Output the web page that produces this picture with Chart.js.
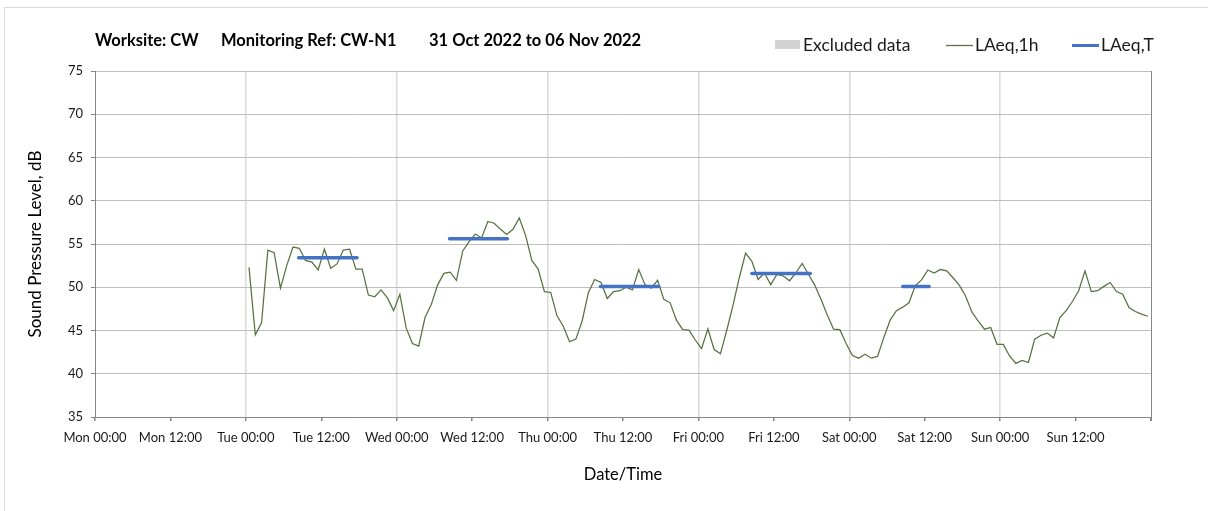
<!DOCTYPE html>
<html>
<head>
<meta charset="utf-8">
<script src="https://cdn.jsdelivr.net/npm/chart.js@4.4.0/dist/chart.umd.min.js"></script>
<style>
  html, body { margin: 0; padding: 0; background: #fff; }
</style>
</head>
<body>
<canvas id="myCanvas" width="1208" height="511"></canvas>
<script>
// horas desde lunes 00:00 del primer dato
const startHour = 24.5;

// LAeq,1h (dB), un valor por hora
const laeq1h = [
  52.3, 44.5, 45.9, 54.3, 54.0, 49.9, 52.5, 54.65, 54.5, 53.1, 52.9, 52.0, 54.4, 52.2, 52.7, 54.3, 54.4, 52.1, 52.1, 49.1, 48.9, 49.7, 48.8, 47.3,
  49.2, 45.3, 43.5, 43.2, 46.5, 48.0, 50.25, 51.6, 51.75, 50.8, 54.2, 55.25, 56.15, 55.7, 57.6, 57.4, 56.7, 56.1, 56.7, 58.0, 56.0, 53.1, 52.1, 49.5,
  49.4, 46.7, 45.5, 43.7, 44.0, 46.1, 49.4, 50.9, 50.55, 48.7, 49.5, 49.6, 50.0, 49.7, 52.05, 50.3, 49.9, 50.8, 48.6, 48.2, 46.2, 45.1, 45.05, 43.9,
  42.9, 45.2, 42.8, 42.3, 45.0, 47.9, 51.1, 53.95, 53.0, 50.9, 51.65, 50.3, 51.5, 51.3, 50.75, 51.65, 52.75, 51.5, 50.25, 48.6, 46.8, 45.15, 45.1, 43.5,
  42.1, 41.8, 42.25, 41.8, 42.0, 44.2, 46.2, 47.3, 47.7, 48.2, 50.2, 50.85, 52.0, 51.65, 52.05, 51.9, 51.1, 50.25, 49.0, 47.15, 46.1, 45.15, 45.35, 43.4,
  43.4, 42.05, 41.2, 41.55, 41.3, 44.0, 44.45, 44.7, 44.15, 46.5, 47.3, 48.35, 49.6, 51.9, 49.5, 49.6, 50.1, 50.55, 49.5, 49.2, 47.65, 47.2, 46.9, 46.65
];

// LAeq,T por periodo (inicio y fin en horas)
const ltStart = [32.4, 56.4, 80.4, 104.5, 128.5];
const ltEnd = [41.7, 65.6, 89.7, 113.8, 132.7];
const ltValue = [53.4, 55.6, 50.1, 51.6, 50.1];

// etiquetas del eje x cada 12 horas
const xTickLabels = [
  'Mon 00:00', 'Mon 12:00', 'Tue 00:00', 'Tue 12:00', 'Wed 00:00', 'Wed 12:00', 'Thu 00:00',
  'Thu 12:00', 'Fri 00:00', 'Fri 12:00', 'Sat 00:00', 'Sat 12:00', 'Sun 00:00', 'Sun 12:00'
];

const titleParts = ['Worksite: CW', 'Monitoring Ref: CW-N1', '31 Oct 2022 to 06 Nov 2022'];
const legendLabels = ['Excluded data', 'LAeq,1h', 'LAeq,T'];

const FONT = 'Lato';
Chart.defaults.font.family = FONT;
Chart.defaults.color = '#1a1a1a';

// puntos de la serie horaria
const hourlyPoints = laeq1h.map((v, i) => ({ x: startHour + i, y: v }));

// segmentos LAeq,T separados con null
const ltPoints = [];
ltValue.forEach((v, i) => {
  ltPoints.push({ x: ltStart[i], y: v });
  ltPoints.push({ x: ltEnd[i], y: v });
  ltPoints.push({ x: ltEnd[i] + 0.5, y: null });
});

// dibuja marco, titulo y leyenda
const extras = {
  id: 'extras',
  beforeDraw(chart) {
    const c = chart.ctx;
    c.save();
    c.strokeStyle = '#D9D9D9';
    c.lineWidth = 1;
    c.beginPath();
    c.moveTo(4.5, 511);
    c.lineTo(4.5, 7.5);
    c.lineTo(1208, 7.5);
    c.stroke();
    c.restore();
  },
  afterDraw(chart) {
    const c = chart.ctx;
    const a = chart.chartArea;
    c.save();
    // borde derecho del area
    const rx = Math.round(a.right) + 0.5;
    c.strokeStyle = '#868686';
    c.lineWidth = 1;
    c.beginPath();
    c.moveTo(rx, a.top);
    c.lineTo(rx, a.bottom + 4);
    c.stroke();

    // titulo
    c.fillStyle = '#000';
    c.font = 'bold 16.5px ' + FONT;
    c.textBaseline = 'middle';
    c.textAlign = 'left';
    const tx = [95, 221, 429];
    titleParts.forEach((t, i) => c.fillText(t, tx[i], 41));

    // leyenda
    c.font = '17.5px ' + FONT;
    c.fillStyle = '#D3D3D3';
    c.fillRect(775, 40, 25, 9);
    c.fillStyle = '#1a1a1a';
    c.fillText(legendLabels[0], 803, 45);

    c.strokeStyle = '#56723F';
    c.lineWidth = 1.3;
    c.beginPath();
    c.moveTo(946, 45.5);
    c.lineTo(973, 45.5);
    c.stroke();
    c.fillText(legendLabels[1], 975, 45);

    c.strokeStyle = '#4472C4';
    c.lineWidth = 3;
    c.beginPath();
    c.moveTo(1072, 45.5);
    c.lineTo(1099, 45.5);
    c.stroke();
    c.fillText(legendLabels[2], 1101, 45);
    c.restore();
  }
};

const ctx = document.getElementById('myCanvas').getContext('2d');
const myChart = new Chart(ctx, {
  type: 'line',
  data: {
    datasets: [
      {
        label: 'LAeq,T',
        data: ltPoints,
        borderColor: '#4472C4',
        borderWidth: 3.5,
        borderCapStyle: 'round',
        pointRadius: 0,
        spanGaps: false,
        order: 0
      },
      {
        label: 'LAeq,1h',
        data: hourlyPoints,
        borderColor: '#56723F',
        borderWidth: 1.25,
        pointRadius: 0,
        tension: 0,
        order: 1
      }
    ]
  },
  options: {
    responsive: false,
    animation: false,
    devicePixelRatio: 1,
    layout: { padding: { top: 71, right: 57, bottom: 0, left: 0 } },
    plugins: {
      legend: { display: false },
      title: { display: false },
      tooltip: { enabled: false }
    },
    scales: {
      x: {
        type: 'linear',
        min: 0,
        max: 168,
        afterFit(scale) { scale.height = 94; },
        afterBuildTicks(scale) {
          scale.ticks = [];
          for (let v = 0; v <= 168; v += 12) scale.ticks.push({ value: v });
        },
        ticks: {
          autoSkip: false,
          maxRotation: 0,
          padding: 9,
          font: { size: 13 },
          callback: (v) => xTickLabels[v / 12] || ''
        },
        grid: {
          color: (c) => (c.tick && c.tick.value % 24 === 0 && c.tick.value > 0 && c.tick.value < 168) ? '#DADADA' : 'rgba(0,0,0,0)',
          lineWidth: 1.5,
          tickColor: '#868686',
          tickLength: 4
        },
        border: { color: '#868686', width: 1 },
        title: {
          display: true,
          text: 'Date/Time',
          font: { size: 16.5 },
          color: '#000',
          padding: { top: 0, bottom: 26 }
        }
      },
      y: {
        min: 35,
        max: 75,
        afterFit(scale) { scale.width = 95; },
        ticks: {
          stepSize: 5,
          padding: 8,
          font: { size: 13 }
        },
        grid: {
          color: '#BEBEBE',
          lineWidth: 1,
          tickColor: '#868686',
          tickLength: 4
        },
        border: { color: '#868686', width: 1 },
        title: {
          display: true,
          text: 'Sound Pressure Level, dB',
          font: { size: 17 },
          color: '#000',
          padding: { top: 25, bottom: 0 }
        }
      }
    }
  },
  plugins: [extras]
});
</script>
</body>
</html>
